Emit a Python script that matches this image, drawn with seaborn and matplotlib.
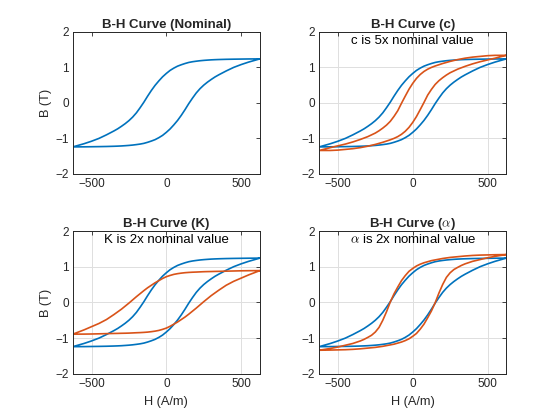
import numpy as np
import pandas as pd
import matplotlib
matplotlib.use("Agg")
import matplotlib.pyplot as plt
import seaborn as sns

# H grid (A/m) shared by every branch, finer in the steep middle part
H = [-625, -550, -500, -450, -400, -350, -325, -300, -275, -250, -225, -200, -175,
     -150, -125, -100, -75, -50, -25, 0, 25, 50, 75, 100, 125, 150, 175, 200,
     225, 250, 275, 300, 325, 350, 400, 450, 500, 550, 625]

# nominal loop: descending (upper) and ascending (lower) branch, B in T
nom_up = [-1.24, -1.15, -1.08, -1.00, -0.90, -0.79, -0.73, -0.66, -0.585, -0.50, -0.40, -0.28, -0.135,
          0.02, 0.19, 0.35, 0.495, 0.62, 0.735, 0.83, 0.915, 0.98, 1.035, 1.075, 1.11, 1.14, 1.16, 1.175,
          1.188, 1.198, 1.206, 1.213, 1.218, 1.222, 1.228, 1.232, 1.235, 1.238, 1.24]
nom_lo = [-1.24, -1.238, -1.235, -1.232, -1.228, -1.222, -1.218, -1.213, -1.206, -1.198, -1.188, -1.175, -1.16,
          -1.14, -1.11, -1.075, -1.035, -0.98, -0.915, -0.83, -0.735, -0.62, -0.495, -0.35, -0.19, -0.02, 0.135,
          0.28, 0.40, 0.50, 0.585, 0.66, 0.73, 0.79, 0.90, 1.00, 1.08, 1.15, 1.24]

# c is 5x nominal
c_up = [-1.34, -1.26, -1.21, -1.16, -1.10, -1.03, -0.99, -0.95, -0.90, -0.85, -0.785, -0.71, -0.625,
        -0.52, -0.38, -0.22, -0.01, 0.19, 0.385, 0.55, 0.69, 0.80, 0.885, 0.95, 1.00, 1.04, 1.075, 1.11,
        1.14, 1.17, 1.195, 1.22, 1.24, 1.26, 1.29, 1.31, 1.33, 1.34, 1.34]
c_lo = [-1.34, -1.34, -1.33, -1.31, -1.29, -1.26, -1.24, -1.22, -1.195, -1.17, -1.14, -1.11, -1.075,
        -1.04, -1.00, -0.95, -0.885, -0.80, -0.69, -0.55, -0.385, -0.19, 0.01, 0.22, 0.38, 0.52, 0.625,
        0.71, 0.785, 0.85, 0.90, 0.95, 0.99, 1.03, 1.10, 1.16, 1.21, 1.26, 1.34]

# K is 2x nominal
k_up = [-0.89, -0.77, -0.68, -0.59, -0.48, -0.34, -0.265, -0.19, -0.105, -0.02, 0.07, 0.16, 0.245,
        0.33, 0.41, 0.48, 0.55, 0.61, 0.67, 0.72, 0.755, 0.785, 0.805, 0.82, 0.832, 0.84, 0.846, 0.85,
        0.855, 0.86, 0.863, 0.865, 0.868, 0.87, 0.875, 0.88, 0.885, 0.888, 0.89]
k_lo = [-0.89, -0.888, -0.885, -0.88, -0.875, -0.87, -0.868, -0.865, -0.863, -0.86, -0.855, -0.85, -0.846,
        -0.84, -0.832, -0.82, -0.805, -0.785, -0.755, -0.72, -0.67, -0.61, -0.55, -0.48, -0.41, -0.33, -0.245,
        -0.16, -0.07, 0.02, 0.105, 0.19, 0.265, 0.34, 0.48, 0.59, 0.68, 0.77, 0.89]

# alpha is 2x nominal
a_up = [-1.34, -1.29, -1.25, -1.20, -1.15, -1.08, -1.035, -0.98, -0.92, -0.83, -0.70, -0.50, -0.26,
        0.01, 0.24, 0.43, 0.61, 0.75, 0.87, 0.95, 1.02, 1.07, 1.11, 1.14, 1.17, 1.19, 1.21, 1.23,
        1.245, 1.26, 1.27, 1.28, 1.29, 1.30, 1.315, 1.325, 1.33, 1.335, 1.34]
a_lo = [-1.34, -1.335, -1.33, -1.325, -1.315, -1.30, -1.29, -1.28, -1.27, -1.26, -1.245, -1.23, -1.21,
        -1.19, -1.17, -1.14, -1.11, -1.07, -1.02, -0.95, -0.87, -0.75, -0.61, -0.43, -0.24, -0.01, 0.26,
        0.50, 0.70, 0.83, 0.92, 0.98, 1.035, 1.08, 1.15, 1.20, 1.25, 1.29, 1.34]

titles = ["B-H Curve (Nominal)", "B-H Curve (c)", "B-H Curve (K)", r"B-H Curve ($\alpha$)"]
notes = [None, "c is 5x nominal value", "K is 2x nominal value", r"$\alpha$ is 2x nominal value"]
x_ticks = [-500, 0, 500]
y_ticks = [-2, -1, 0, 1, 2]

BLUE = "#0072BD"
ORANGE = "#D95319"
AXC = "#262626"

sns.set_style("white")
plt.rcParams['font.family'] = ['Liberation Sans', 'DejaVu Sans']
plt.rcParams['mathtext.fontset'] = 'cm'


def draw_loop(ax, up, lo, color):
    # upper branch right -> left, then lower branch left -> right
    df = pd.DataFrame({"H": H[::-1] + H, "B": up[::-1] + lo})
    sns.lineplot(data=df, x="H", y="B", sort=False, estimator=None, ax=ax,
                 color=color, linewidth=1.2)


fig = plt.figure(figsize=(5.6, 4.2), dpi=100)
pos = [[0.13, 0.586, 0.334, 0.338], [0.570, 0.586, 0.334, 0.338],
       [0.13, 0.110, 0.334, 0.340], [0.570, 0.110, 0.334, 0.340]]
others = [None, (c_up, c_lo), (k_up, k_lo), (a_up, a_lo)]

for i in range(4):
    ax = fig.add_axes(pos[i])
    if i > 0:
        ax.grid(True, color="#dfdfdf", linewidth=0.7)
    draw_loop(ax, nom_up, nom_lo, BLUE)
    if others[i] is not None:
        draw_loop(ax, others[i][0], others[i][1], ORANGE)
        ax.text(0, 1.75, notes[i], ha="center", va="center", fontsize=9.5, color="black")
    ax.set_xlim(-625, 625)
    ax.set_ylim(-2, 2)
    ax.set_xticks(x_ticks)
    ax.set_yticks(y_ticks)
    ax.tick_params(direction="in", length=3, width=0.6, top=True, right=True,
                   labelsize=8.5, colors=AXC, pad=3)
    for s in ax.spines.values():
        s.set_color(AXC)
        s.set_linewidth(0.7)
    ax.set_title(titles[i], fontsize=9.5, fontweight="bold", pad=3)
    ax.set_xlabel("H (A/m)" if i >= 2 else "", fontsize=9.2, color=AXC)
    ax.set_ylabel("B (T)" if i % 2 == 0 else "", fontsize=9.2, color=AXC, labelpad=2)

fig.savefig("out.png", dpi=100)
